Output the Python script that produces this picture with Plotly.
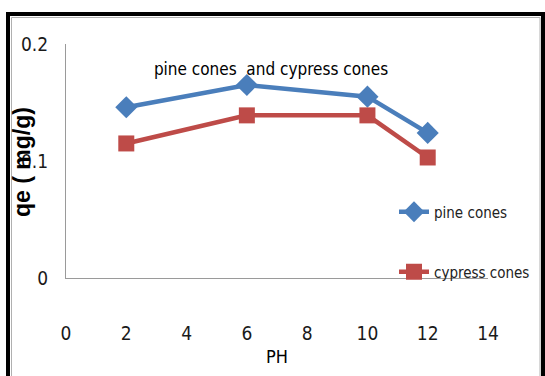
import plotly.graph_objects as go

ph = [2, 6, 10, 12]
pine_cones = [0.146, 0.165, 0.155, 0.124]
cypress_cones = [0.115, 0.139, 0.139, 0.103]
x_ticks = [0, 2, 4, 6, 8, 10, 12, 14]
y_ticks = [0, 0.1, 0.2]
y_tick_labels = ["0", "0.1", "0.2"]

NARROW = "DejaVu Sans Condensed, Liberation Sans Narrow, sans-serif"

W, H = 545, 376
ML, MR, MT, MB = 66, 57, 44, 98
pw, ph_ = W - ML - MR, H - MT - MB

def px(x):
    return (x - ML) / pw

def py(y):
    return (H - MB - y) / ph_

fig = go.Figure()
fig.add_trace(go.Scatter(
    x=ph, y=pine_cones, mode="lines+markers", name="pine cones",
    line=dict(color="#4A7EBB", width=4.5),
    marker=dict(symbol="diamond", size=17, color="#4A7EBB"),
    showlegend=True, legend="legend",
))
fig.add_trace(go.Scatter(
    x=ph, y=cypress_cones, mode="lines+markers", name="cypress cones",
    line=dict(color="#BE4B48", width=4.5),
    marker=dict(symbol="square", size=16, color="#BE4B48"),
    showlegend=True, legend="legend2",
))

fig.update_layout(
    width=W, height=H,
    margin=dict(l=ML, r=MR, t=MT, b=MB, pad=0, autoexpand=False),
    showlegend=True,
    paper_bgcolor="white", plot_bgcolor="white",
    font=dict(family=NARROW, color="#1a1a1a"),
    title=dict(text="pine cones  and cypress cones", x=px(271), y=py(69),
               xref="paper", yref="paper", xanchor="center", yanchor="middle",
               font=dict(family=NARROW, size=17, color="black")),
    xaxis=dict(range=[0, 14], tickvals=x_ticks, ticks="", showgrid=False,
               zeroline=False, showline=True, linecolor="#9a9a9a", linewidth=1,
               tickfont=dict(family=NARROW, size=19, color="#1a1a1a"),
               ticklabelstandoff=38,
               title=dict(text="PH", font=dict(family=NARROW, size=18, color="black"),
                          standoff=7)),
    yaxis=dict(range=[0, 0.2], tickvals=y_ticks, ticktext=y_tick_labels, ticks="",
               showgrid=False, zeroline=False, showline=True, linecolor="#9a9a9a",
               linewidth=1, tickfont=dict(family=NARROW, size=19, color="#1a1a1a"),
               ticklabelstandoff=13),
    legend=dict(x=px(394), y=py(212), xanchor="left", yanchor="middle", visible=True,
                bgcolor="rgba(0,0,0,0)", font=dict(family=NARROW, size=15, color="#222")),
    legend2=dict(x=px(394), y=py(272), xanchor="left", yanchor="middle", visible=True,
                 bgcolor="rgba(0,0,0,0)", font=dict(family=NARROW, size=15, color="#222")),
    annotations=[dict(text="<b>qe ( mg/g)</b>", textangle=-90, x=px(22), y=py(162),
                      xref="paper", yref="paper", xanchor="center", yanchor="middle",
                      showarrow=False,
                      font=dict(family="Liberation Sans, Arial, sans-serif", size=23, color="black"))],
    shapes=[
        dict(type="rect", xref="paper", yref="paper", x0=px(8), x1=px(543),
             y0=py(400), y1=py(14), line=dict(color="black", width=4)),
        dict(type="rect", xref="paper", yref="paper", x0=px(11.5), x1=px(540),
             y0=py(400), y1=py(17.5), line=dict(color="#b0b0b0", width=1)),
    ],
)

fig.write_html("out.html")
